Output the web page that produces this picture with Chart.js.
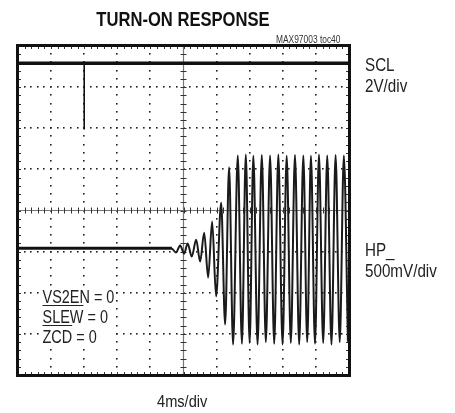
<!DOCTYPE html>
<html>
<head>
<meta charset="utf-8">
<script src="https://cdn.jsdelivr.net/npm/chart.js@4"></script>
<style>
  html, body { margin: 0; padding: 0; background: #fff; }
  #wrap { position: relative; width: 455px; height: 413px; }
  canvas { position: absolute; left: 0; top: 0; }
  .txt { position: absolute; font-family: "Liberation Sans", Arial, sans-serif; color: #222; line-height: 1; white-space: nowrap; transform-origin: 0 0; }
  #titulo { left: 0; width: 366px; top: 8px; text-align: center; font-weight: bold; font-size: 21px; color: #111; transform: scaleX(0.79); transform-origin: 183px 0; }
  #ref { left: 276px; top: 35px; font-size: 10px; color: #333; transform: scaleX(0.84); }
  #scl { left: 365px; top: 54px; font-size: 19px; line-height: 21px; transform: scaleX(0.8); }
  #hp { left: 365px; top: 239px; font-size: 19px; line-height: 21px; transform: scaleX(0.8); }
  #cond { left: 41px; top: 287px; font-size: 19px; line-height: 20px; background: #fff; padding: 0 2px; transform: scaleX(0.76); }
  #cond span { text-decoration: overline; }
  #base { left: 157px; top: 393px; font-size: 17px; transform: scaleX(0.86); }
</style>
</head>
<body>
<div id="wrap">
  <canvas id="grafico" width="455" height="413"></canvas>
  <div class="txt" id="titulo">TURN-ON RESPONSE</div>
  <div class="txt" id="ref">MAX97003 toc40</div>
  <div class="txt" id="scl">SCL<br>2V/div</div>
  <div class="txt" id="hp">HP_<br>500mV/div</div>
  <div class="txt" id="cond">VS2EN = 0<br><span>SLEW</span> = 0<br><span>ZCD</span> = 0</div>
  <div class="txt" id="base">4ms/div</div>
</div>
<script>
// tempo em ms (4ms/div, 10 divisoes) e tensao em divisoes (-4..4)
const sclT = [0, 8, 8.02, 40];
const sclV = [3.58, 3.58, 3.58, 3.58];
const glitchT = [8, 8];
const glitchV = [3.58, 1.97];

const hpFlatT = [0, 18.6];
const hpFlatV = [-0.92, -0.92];

const hpWaveT = [18.6, 19.1, 19.6, 20.08, 20.5, 21.0, 21.53, 22.01, 22.5, 22.98, 23.46, 23.94, 24.55, 25.03,
  25.51, 25.99, 26.56, 27.06, 27.53, 27.99, 28.44, 28.95, 29.46, 29.95, 30.46, 30.96, 31.46, 31.97,
  32.47, 32.97, 33.47, 33.98, 34.48, 34.95, 35.40, 35.89, 36.37, 36.88, 37.37, 37.88, 38.38, 38.88,
  39.38, 39.87];
const hpWaveV = [-0.92, -1.02, -0.85, -1.05, -0.80, -1.12, -0.71, -1.24, -0.54, -1.63, -0.27, -2.09, 0.19, -2.77,
  1.05, -3.26, 1.34, -3.24, 1.36, -3.22, 1.33, -3.26, 1.35, -3.20, 1.34, -3.24, 1.36, -3.26,
  1.33, -3.22, 1.35, -3.26, 1.34, -3.20, 1.33, -3.24, 1.36, -3.22, 1.34, -3.26, 1.35, -3.20,
  1.34, -3.19];

const divX = 10, divY = 8;

function pontos(ts, vs) {
  return ts.map((t, i) => ({ x: t, y: vs[i] }));
}

// reticulado do osciloscopio
const reticulado = {
  id: 'reticulado',
  beforeDatasetsDraw(chart) {
    const { ctx, chartArea: a, scales: { x, y } } = chart;
    ctx.save();
    ctx.fillStyle = '#222';
    // linhas pontilhadas
    for (let i = 1; i < divX; i++) {
      if (i === divX / 2) continue;
      const px = x.getPixelForValue(i * 4);
      for (let j = 0; j <= divY * 5; j++) {
        const py = y.getPixelForValue(-4 + j * 0.2);
        ctx.fillRect(Math.round(px) - 1, Math.round(py) - 1, 1.6, 1.6);
      }
    }
    for (let j = 1; j < divY; j++) {
      if (j === divY / 2) continue;
      const py = y.getPixelForValue(-4 + j);
      for (let i = 0; i <= divX * 5; i++) {
        const px = x.getPixelForValue(i * 0.8);
        ctx.fillRect(Math.round(px) - 1, Math.round(py) - 1, 1.6, 1.6);
      }
    }
    // cruz central
    const cx = x.getPixelForValue(20), cy = y.getPixelForValue(0);
    ctx.strokeStyle = '#777';
    ctx.lineWidth = 1.2;
    ctx.beginPath();
    ctx.moveTo(cx, a.top); ctx.lineTo(cx, a.bottom);
    ctx.moveTo(a.left, cy); ctx.lineTo(a.right, cy);
    ctx.stroke();
    ctx.strokeStyle = '#333';
    ctx.lineWidth = 1;
    ctx.beginPath();
    for (let j = 0; j <= divY * 5; j++) {
      const py = Math.round(y.getPixelForValue(-4 + j * 0.2)) + 0.5;
      ctx.moveTo(cx - 3, py); ctx.lineTo(cx + 3, py);
      ctx.moveTo(a.left, py); ctx.lineTo(a.left + 3, py);
      ctx.moveTo(a.right - 3, py); ctx.lineTo(a.right, py);
    }
    for (let i = 0; i <= divX * 5; i++) {
      const px = Math.round(x.getPixelForValue(i * 0.8)) + 0.5;
      ctx.moveTo(px, cy - 3); ctx.lineTo(px, cy + 3);
      ctx.moveTo(px, a.top); ctx.lineTo(px, a.top + 3);
      ctx.moveTo(px, a.bottom - 3); ctx.lineTo(px, a.bottom);
    }
    ctx.stroke();
    ctx.restore();
  },
  afterDatasetsDraw(chart) {
    const { ctx, chartArea: a } = chart;
    ctx.save();
    ctx.strokeStyle = '#111';
    ctx.lineWidth = 3;
    ctx.strokeRect(a.left - 0.5, a.top - 0.5, a.right - a.left + 1, a.bottom - a.top + 1);
    ctx.restore();
  }
};

new Chart(document.getElementById('grafico').getContext('2d'), {
  type: 'line',
  data: {
    datasets: [
      { label: 'SCL', data: pontos(sclT, sclV), borderColor: '#111', borderWidth: 3.5 },
      { label: 'SCL glitch', data: pontos(glitchT, glitchV), borderColor: '#111', borderWidth: 1.6 },
      { label: 'HP flat', data: pontos(hpFlatT, hpFlatV), borderColor: '#111', borderWidth: 3 },
      { label: 'HP', data: pontos(hpWaveT, hpWaveV), borderColor: '#1a1a1a', borderWidth: 2, cubicInterpolationMode: 'monotone' }
    ]
  },
  options: {
    responsive: false,
    animation: false,
    events: [],
    layout: { padding: { left: 18, top: 46, right: 106, bottom: 38 } },
    elements: { point: { radius: 0 } },
    plugins: { legend: { display: false }, tooltip: { enabled: false } },
    scales: {
      x: { type: 'linear', min: 0, max: 40, display: false },
      y: { type: 'linear', min: -4, max: 4, display: false }
    }
  },
  plugins: [reticulado]
});
</script>
</body>
</html>
